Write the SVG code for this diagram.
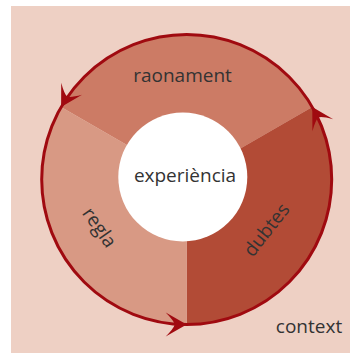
<svg xmlns="http://www.w3.org/2000/svg" xmlns:xlink="http://www.w3.org/1999/xlink" width="350" height="353" viewBox="0 0 350 353">
  <style>
    .lbl { font-family: "Open Sans", "Noto Sans", sans-serif; font-size: 19px; fill: #333333; text-anchor: middle; }
    .ring { fill: none; stroke: #a00a10; stroke-width: 3; }
    .arrow { fill: #a00a10; }
  </style>
  <defs>
    <path id="arrowhead" d="M0,0 L-21,-12 Q-13,-4 -12,0 Q-13,4 -21,12 Z"/>
  </defs>
  <rect x="11" y="6" width="339" height="347" fill="#eed0c4"/>
  <g id="raonament">
    <path d="M186.7,179.5 L61.1,107 A145,145 0 0 1 312.3,107 Z" fill="#cc7b65"/>
    <text class="lbl" x="182.5" y="81.5">raonament</text>
  </g>
  <g id="dubtes">
    <path d="M186.7,179.5 L312.3,107 A145,145 0 0 1 186.7,324.5 Z" fill="#b24b36"/>
    <text class="lbl" transform="translate(271.6,233.8) rotate(-52)" x="0" y="0">dubtes</text>
  </g>
  <g id="regla">
    <path d="M186.7,179.5 L186.7,324.5 A145,145 0 0 1 61.1,107 Z" fill="#d89984"/>
    <text class="lbl" transform="translate(94.2,231.2) rotate(55)" x="0" y="0">regla</text>
  </g>
  <g id="connectors">
    <circle class="ring" cx="186.7" cy="179.5" r="145"/>
    <use class="arrow" xlink:href="#arrowhead" href="#arrowhead" transform="translate(61.1,107) rotate(120)"/>
    <use class="arrow" xlink:href="#arrowhead" href="#arrowhead" transform="translate(312.3,107) rotate(-120)"/>
    <use class="arrow" xlink:href="#arrowhead" href="#arrowhead" transform="translate(186.7,324.5) rotate(0)"/>
  </g>
  <g id="experiencia">
    <circle cx="182.8" cy="177" r="64.5" fill="#ffffff"/>
    <text class="lbl" x="185" y="181.5">experiència</text>
  </g>
  <g id="context">
    <text class="lbl" x="309" y="333">context</text>
  </g>
</svg>
